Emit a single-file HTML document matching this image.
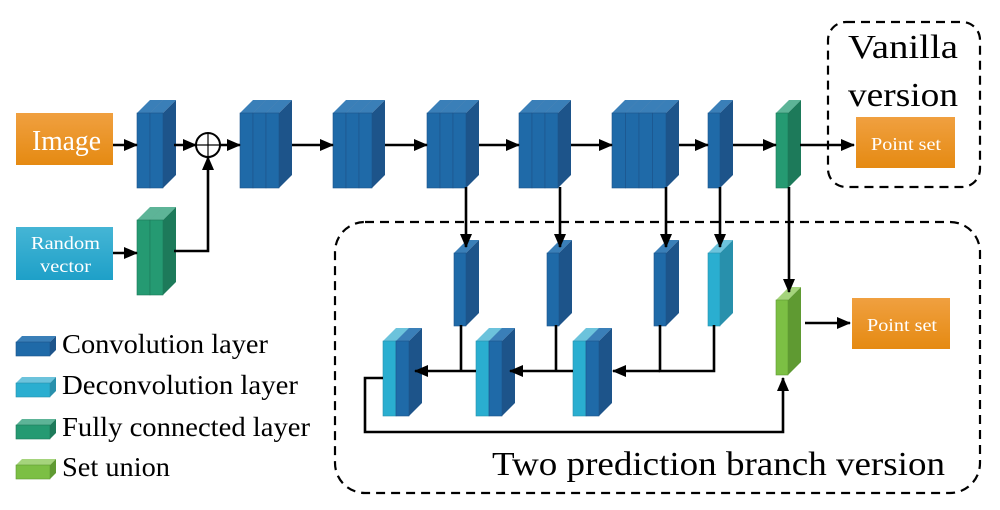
<!DOCTYPE html>
<html><head><meta charset="utf-8"><style>
html,body{margin:0;padding:0;background:#fff}
svg{display:block}
text{font-family:"Liberation Serif",serif}
</style></head><body>
<svg id="s" width="1000" height="510" viewBox="0 0 1000 510" xmlns="http://www.w3.org/2000/svg">
<defs>
<marker id="b" markerWidth="14" markerHeight="12" refX="13" refY="6" orient="auto" markerUnits="userSpaceOnUse"><path d="M0,0 L14,6 L0,12 z" fill="#000"/></marker>
<linearGradient id="og" x1="0" y1="0" x2="0" y2="1"><stop offset="0" stop-color="#f0a040"/><stop offset="1" stop-color="#e58a12"/></linearGradient>
<linearGradient id="cg" x1="0" y1="0" x2="0" y2="1"><stop offset="0" stop-color="#45b5d5"/><stop offset="1" stop-color="#1ea0c8"/></linearGradient>
</defs>
<rect x="828" y="22" width="152" height="165" rx="18" fill="none" stroke="#000" stroke-width="2.2" stroke-dasharray="9,6"/>
<rect x="335" y="222" width="645" height="271" rx="30" fill="none" stroke="#000" stroke-width="2.2" stroke-dasharray="9,6"/>
<text x="848" y="58" font-size="34" textLength="110" lengthAdjust="spacingAndGlyphs">Vanilla</text>
<text x="848" y="106" font-size="34" textLength="110" lengthAdjust="spacingAndGlyphs">version</text>
<text x="492" y="475" font-size="34" textLength="453" lengthAdjust="spacingAndGlyphs">Two prediction branch version</text>
<rect x="16" y="113" width="97" height="52" fill="url(#og)"/>
<text x="32" y="150" font-size="28" fill="#fff" textLength="69" lengthAdjust="spacingAndGlyphs">Image</text>
<rect x="16" y="227" width="97" height="53" fill="url(#cg)"/>
<text x="31" y="249" font-size="18" fill="#fff" textLength="69" lengthAdjust="spacingAndGlyphs">Random</text>
<text x="40" y="272" font-size="18" fill="#fff" textLength="51" lengthAdjust="spacingAndGlyphs">vector</text>
<rect x="856" y="117" width="99" height="51" fill="url(#og)"/>
<text x="871" y="150" font-size="18" fill="#fff" textLength="70" lengthAdjust="spacingAndGlyphs">Point set</text>
<rect x="852" y="298" width="98" height="51" fill="url(#og)"/>
<text x="867" y="331" font-size="18" fill="#fff" textLength="70" lengthAdjust="spacingAndGlyphs">Point set</text>
<text x="62" y="353" font-size="27" textLength="206" lengthAdjust="spacingAndGlyphs">Convolution layer</text>
<text x="62" y="394" font-size="27" textLength="236" lengthAdjust="spacingAndGlyphs">Deconvolution layer</text>
<text x="62" y="436" font-size="27" textLength="248" lengthAdjust="spacingAndGlyphs">Fully connected layer</text>
<text x="62" y="476" font-size="27" textLength="108" lengthAdjust="spacingAndGlyphs">Set union</text>
<g id="blocks"></g>
<g stroke="#000" stroke-width="2.6" fill="none">
<line x1="113" y1="145" x2="137" y2="145" marker-end="url(#b)"/>
<line x1="113" y1="253" x2="137" y2="253" marker-end="url(#b)"/>
<line x1="174" y1="145" x2="196" y2="145" marker-end="url(#b)"/>
<polyline points="174,251 208,251 208,157" marker-end="url(#b)"/>
<line x1="220" y1="145" x2="240" y2="145" marker-end="url(#b)"/>
<line x1="292" y1="145" x2="333" y2="145" marker-end="url(#b)"/>
<line x1="385" y1="145" x2="427" y2="145" marker-end="url(#b)"/>
<line x1="479" y1="145" x2="519" y2="145" marker-end="url(#b)"/>
<line x1="571" y1="145" x2="612" y2="145" marker-end="url(#b)"/>
<line x1="679" y1="145" x2="708" y2="145" marker-end="url(#b)"/>
<line x1="733" y1="145" x2="776" y2="145" marker-end="url(#b)"/>
<line x1="800" y1="145" x2="854" y2="145" marker-end="url(#b)"/>
<line x1="466" y1="187" x2="466" y2="247" marker-end="url(#b)"/>
<line x1="560" y1="187" x2="560" y2="247" marker-end="url(#b)"/>
<line x1="666" y1="187" x2="666" y2="247" marker-end="url(#b)"/>
<line x1="720" y1="187" x2="720" y2="247" marker-end="url(#b)"/>
<line x1="789" y1="187" x2="789" y2="292" marker-end="url(#b)"/>
<line x1="805" y1="323" x2="850" y2="323" marker-end="url(#b)"/>
<line x1="461" y1="325" x2="461" y2="371"/>
<line x1="556" y1="325" x2="556" y2="371"/>
<polyline points="660,325 660,371 714,371 714,325"/>
<line x1="660" y1="371" x2="613" y2="371" marker-end="url(#b)"/>
<line x1="573" y1="371" x2="510" y2="371" marker-end="url(#b)"/>
<line x1="476" y1="371" x2="415" y2="371" marker-end="url(#b)"/>
<polyline points="383,378 365,378 365,432 783,432 783,378" marker-end="url(#b)"/>
</g>
<circle cx="208" cy="145" r="12" fill="#fff" stroke="#000" stroke-width="2"/>
<line x1="196" y1="145" x2="220" y2="145" stroke="#000" stroke-width="1.2"/>
<line x1="208" y1="133" x2="208" y2="157" stroke="#000" stroke-width="1.2"/>
</svg>
<script>
var C={b:['#1f6aa8','#3a7fb8','#1d548a'],c:['#2aaed0','#6cc3dc','#2890ac'],g:['#259a72','#5db497','#1d7a5a'],l:['#7cbf44','#a5d47c','#5f9a32']};
var out='';
function slab(x,y,w,h,d,c){
 var k=C[c];
 out+='<polygon points="'+x+','+(y+d)+' '+(x+d)+','+y+' '+(x+w+d)+','+y+' '+(x+w)+','+(y+d)+'" fill="'+k[1]+'"/>';
 out+='<polygon points="'+(x+w)+','+(y+d)+' '+(x+w+d)+','+y+' '+(x+w+d)+','+(y+h)+' '+(x+w)+','+(y+h+d)+'" fill="'+k[2]+'"/>';
 out+='<rect x="'+x+'" y="'+(y+d)+'" width="'+w+'" height="'+h+'" fill="'+k[0]+'" stroke="'+k[2]+'" stroke-width="0.6"/>';
}
function block(x,y,cols,w,h,d){for(var i=0;i<cols.length;i++)slab(x+i*w,y,w,h,d,cols[i]);}
block(137,100,['b','b'],13,75,13);
block(137,207,['g','g'],13,75,13);
block(240,100,['b','b','b'],13,75,13);
block(333,100,['b','b','b'],13,75,13);
block(427,100,['b','b','b'],13,75,13);
block(519,100,['b','b','b'],13,75,13);
block(612,100,['b','b','b','b'],13.5,75,13);
block(708,100,['b'],12,75,13);
block(776,100,['g'],12,75,13);
block(454,240,['b'],12,73,13);
block(547,240,['b'],12,73,13);
block(654,240,['b'],12,73,13);
block(708,240,['c'],12,73,13);
block(776,287,['l'],12,75,13);
block(383,328,['c','b'],13,75,13);
block(476,328,['c','b'],13,75,13);
block(573,328,['c','b'],13,75,13);
block(16,336,['b'],34,14,6);
block(16,377,['c'],34,14,6);
block(16,419,['g'],34,14,6);
block(16,459,['l'],34,14,6);
document.getElementById('blocks').innerHTML=out;
</script>
</body></html>
